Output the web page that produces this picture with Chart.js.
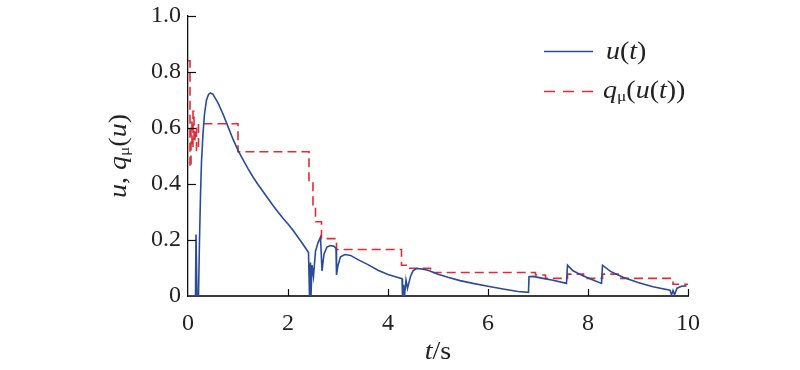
<!DOCTYPE html>
<html>
<head>
<meta charset="utf-8">
<script src="https://cdn.jsdelivr.net/npm/chart.js@4.4.1/dist/chart.umd.min.js"></script>
<style>
  body { margin: 0; background: #fff; }
  #wrap { width: 800px; height: 370px; position: relative; }
</style>
</head>
<body>
<div id="wrap"><canvas id="plot"></canvas></div>
<script>
// u(t): time points and values
const uT = [0, 0.15, 0.16, 0.17, 0.18, 0.21, 0.23, 0.25, 0.27, 0.30, 0.33, 0.37, 0.41, 0.45, 0.50, 0.55, 0.60, 0.70, 0.80, 0.90, 1.0,
  1.1, 1.2, 1.3, 1.4, 1.5, 1.6, 1.7, 1.8, 1.9, 2.0, 2.1, 2.2, 2.3, 2.41,
  2.43, 2.45, 2.46, 2.48, 2.51, 2.55, 2.60, 2.65, 2.68, 2.72, 2.78, 2.85, 2.92, 2.96, 2.97, 3.0, 3.05, 3.14, 3.25, 3.4, 3.6, 3.8, 4.0, 4.2, 4.28,
  4.29, 4.31, 4.33, 4.36, 4.39, 4.45, 4.5, 4.57, 4.7, 4.8, 5.0, 5.2, 5.44, 5.7, 6.0, 6.3, 6.6, 6.81,
  6.82, 6.9, 7.1, 7.3, 7.57, 7.59, 7.7, 7.9, 8.1, 8.27, 8.29, 8.45, 8.7, 9.0, 9.3, 9.64,
  9.67, 9.70, 9.73, 9.78, 9.87, 9.97];
const uV = [0, 0, 0.22, 0.22, 0, 0, 0.2, 0.36, 0.48, 0.58, 0.65, 0.70, 0.72, 0.725, 0.72, 0.705, 0.69, 0.65, 0.605, 0.56, 0.52,
  0.487, 0.455, 0.425, 0.398, 0.373, 0.348, 0.323, 0.3, 0.278, 0.257, 0.235, 0.21, 0.185, 0.155,
  0, 0.12, 0, 0.11, 0.07, 0.16, 0.19, 0.21, 0.09, 0.15, 0.175, 0.18, 0.178, 0.17, 0.075, 0.11, 0.14, 0.148, 0.145, 0.13, 0.112, 0.092, 0.077, 0.066, 0.062,
  0, 0.04, 0, 0.057, 0.027, 0.07, 0.09, 0.098, 0.096, 0.092, 0.078, 0.067, 0.055, 0.045, 0.035, 0.025, 0.016, 0.013,
  0.069, 0.07, 0.063, 0.056, 0.045, 0.11, 0.09, 0.072, 0.057, 0.045, 0.11, 0.088, 0.067, 0.048, 0.033, 0.021,
  0.004, 0.02, 0.004, 0.028, 0.035, 0.036];

// q_mu(u(t)): value held from each time point until the next one
const qT = [0, 0.04, 0.06, 0.08, 0.10, 0.12, 0.14, 0.17, 0.21, 1.0, 2.42, 2.5, 2.55, 2.67, 2.97, 4.27, 4.4, 4.85, 6.95, 7.15, 7.59, 7.91, 8.29, 8.6, 9.7, 10];
const qV = [0.84, 0.46, 0.62, 0.53, 0.66, 0.55, 0.60, 0.52, 0.615, 0.515, 0.41, 0.325, 0.265, 0.205, 0.166, 0.11, 0.099, 0.084, 0.075, 0.063, 0.078, 0.063, 0.078, 0.063, 0.042, 0.042];

const xTicks = [0, 2, 4, 6, 8, 10];
const yTicks = [0, 0.2, 0.4, 0.6, 0.8, 1.0];
const yTickLabels = ['0', '0.2', '0.4', '0.6', '0.8', '1.0'];

const BLUE = '#2a4b9b';
const RED = '#e12b38';
const SERIF = '"Liberation Serif", "Times New Roman", serif';
const TXT = 25;      // title / legend size
const STRETCH = 1.12; // the source type is a bit wide

// draws a run of text pieces, some italic, some subscript
function drawRun(ctx, pieces, x, y, size) {
    ctx.save();
    ctx.translate(x, y);
    ctx.scale(STRETCH, 1);
    let cx = 0;
    pieces.forEach(p => {
        const fs = p.sub ? size * 0.62 : size;
        ctx.font = (p.it ? 'italic ' : '') + fs + 'px ' + SERIF;
        ctx.fillText(p.t, cx, p.sub ? size * 0.22 : 0);
        cx += ctx.measureText(p.t).width;
    });
    ctx.restore();
}

function runWidth(ctx, pieces, size) {
    let w = 0;
    pieces.forEach(p => {
        ctx.font = (p.it ? 'italic ' : '') + (p.sub ? size * 0.62 : size) + 'px ' + SERIF;
        w += ctx.measureText(p.t).width;
    });
    return w * STRETCH;
}

const decorations = {
    id: 'decorations',
    afterDraw(chart) {
        const ctx = chart.ctx;
        const xs = chart.scales.x, ys = chart.scales.y;
        const area = chart.chartArea;
        ctx.save();
        // inward tick marks
        ctx.strokeStyle = '#111';
        ctx.lineWidth = 1.2;
        xTicks.slice(1).forEach(v => {
            const px = Math.round(xs.getPixelForValue(v)) + 0.5;
            ctx.beginPath();
            ctx.moveTo(px, area.bottom);
            ctx.lineTo(px, area.bottom - 7);
            ctx.stroke();
        });
        yTicks.slice(1).forEach(v => {
            const py = Math.round(ys.getPixelForValue(v)) + 0.5;
            ctx.beginPath();
            ctx.moveTo(area.left, py);
            ctx.lineTo(area.left + 8, py);
            ctx.stroke();
        });

        ctx.fillStyle = '#222';
        ctx.textBaseline = 'middle';
        ctx.textAlign = 'left';

        // x title
        const xt = [{t: 't', it: true}, {t: '/s'}];
        const xw = runWidth(ctx, xt, TXT);
        drawRun(ctx, xt, (area.left + area.right) / 2 - xw / 2, 352, TXT);

        // y title, rotated
        const yt = [{t: 'u', it: true}, {t: ', '}, {t: 'q', it: true}, {t: 'μ', sub: true}, {t: '('}, {t: 'u', it: true}, {t: ')'}];
        const yw = runWidth(ctx, yt, TXT);
        ctx.save();
        ctx.translate(119, 156);
        ctx.rotate(-Math.PI / 2);
        drawRun(ctx, yt, -yw / 2, 0, TXT);
        ctx.restore();

        // legend
        ctx.lineWidth = 1.6;
        ctx.strokeStyle = BLUE;
        ctx.beginPath();
        ctx.moveTo(544, 51.5);
        ctx.lineTo(593, 51.5);
        ctx.stroke();
        ctx.strokeStyle = RED;
        ctx.setLineDash([11, 8]);
        ctx.beginPath();
        ctx.moveTo(544, 91.5);
        ctx.lineTo(593, 91.5);
        ctx.stroke();
        ctx.setLineDash([]);
        drawRun(ctx, [{t: 'u', it: true}, {t: '('}, {t: 't', it: true}, {t: ')'}], 606, 52, TXT);
        drawRun(ctx, [{t: 'q', it: true}, {t: 'μ', sub: true}, {t: '('}, {t: 'u', it: true}, {t: '('}, {t: 't', it: true}, {t: '))'}], 603, 91, TXT);
        ctx.restore();
    }
};

new Chart(document.getElementById('plot'), {
    type: 'line',
    data: {
        datasets: [{
            label: 'u(t)',
            data: uT.map((t, i) => ({x: t, y: uV[i]})),
            borderColor: BLUE,
            borderWidth: 1.6,
            pointRadius: 0,
            tension: 0,
            fill: false
        }, {
            label: 'q(u(t))',
            data: qT.map((t, i) => ({x: t, y: qV[i]})),
            borderColor: RED,
            borderWidth: 1.6,
            borderDash: [9, 5],
            stepped: 'before',
            pointRadius: 0,
            fill: false
        }]
    },
    options: {
        responsive: true,
        maintainAspectRatio: false,
        animation: false,
        layout: { padding: { left: 0, top: 16, right: 112, bottom: 0 } },
        plugins: { legend: { display: false }, tooltip: { enabled: false } },
        scales: {
            x: {
                type: 'linear',
                min: 0,
                max: 10,
                afterBuildTicks: s => { s.ticks = xTicks.map(v => ({value: v})); },
                afterFit: s => { s.height = 74; s.paddingLeft = 0; s.paddingRight = 0; },
                grid: { display: true, drawOnChartArea: false, drawTicks: false },
                border: { display: true, color: '#3a3a3a', width: 2 },
                ticks: { color: '#222', padding: 13, maxRotation: 0, font: { family: SERIF, size: 24 } }
            },
            y: {
                type: 'linear',
                min: 0,
                max: 1,
                afterBuildTicks: s => { s.ticks = yTicks.map(v => ({value: v})); },
                afterFit: s => { s.width = 188; s.paddingTop = 0; s.paddingBottom = 0; },
                grid: { display: true, drawOnChartArea: false, drawTicks: false },
                border: { display: true, color: '#111', width: 1.3 },
                ticks: {
                    color: '#222',
                    padding: 7,
                    font: { family: SERIF, size: 24 },
                    callback: v => yTickLabels[yTicks.indexOf(v)]
                }
            }
        }
    },
    plugins: [decorations]
});
</script>
</body>
</html>
